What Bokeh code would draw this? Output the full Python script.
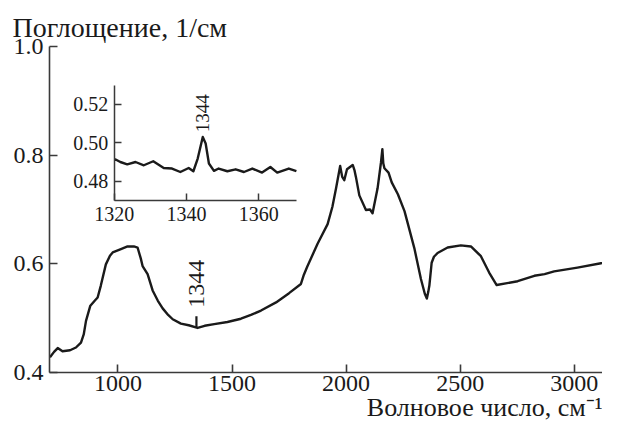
from math import pi
from bokeh.plotting import figure
from bokeh.models import Range1d, LinearAxis, FixedTicker, PrintfTickFormatter, Label, Title
from bokeh.embed import file_html
from bokeh.resources import INLINE

# ---- data ----
wavenumber = [702, 720, 736, 757, 790, 816, 838, 850, 860, 879, 900, 911, 925, 947, 965, 977,
              1013, 1042, 1070, 1086, 1100, 1108, 1130, 1152, 1175, 1196, 1220, 1240, 1276, 1310,
              1349, 1380, 1422, 1480, 1539, 1583, 1627, 1693, 1750, 1802, 1815, 1830, 1875, 1919,
              1940, 1956, 1974, 1983, 1992, 2004, 2029, 2037, 2043, 2058, 2087, 2105, 2116, 2138,
              2153, 2159, 2163, 2168, 2186, 2200, 2227, 2256, 2270, 2299, 2328, 2345, 2354, 2360,
              2365, 2375, 2385, 2401, 2445, 2503, 2547, 2591, 2627, 2660, 2752, 2825, 2870, 2912,
              3014, 3117, 3193]
absorbance = [0.428, 0.438, 0.445, 0.439, 0.441, 0.446, 0.455, 0.470, 0.495, 0.523, 0.533, 0.538,
              0.560, 0.599, 0.615, 0.621, 0.627, 0.632, 0.632, 0.630, 0.610, 0.596, 0.581, 0.551,
              0.532, 0.518, 0.506, 0.498, 0.490, 0.487, 0.482, 0.486, 0.489, 0.493, 0.499, 0.506,
              0.514, 0.529, 0.546, 0.563, 0.580, 0.595, 0.637, 0.673, 0.705, 0.739, 0.780, 0.760,
              0.754, 0.774, 0.782, 0.772, 0.760, 0.726, 0.699, 0.700, 0.693, 0.739, 0.787, 0.811,
              0.785, 0.776, 0.768, 0.750, 0.728, 0.697, 0.675, 0.629, 0.572, 0.545, 0.536, 0.548,
              0.560, 0.602, 0.613, 0.620, 0.630, 0.634, 0.632, 0.614, 0.584, 0.561, 0.568, 0.578,
              0.581, 0.586, 0.593, 0.601, 0.605]

inset_wavenumber = [1320.0, 1320.4, 1321.7, 1323.6, 1325.9, 1328.2, 1330.8, 1333.7, 1336.0, 1338.3,
                    1340.6, 1341.9, 1343.1, 1344.5, 1345.3, 1346.2, 1347.6, 1348.9, 1351.3, 1353.6,
                    1355.9, 1358.2, 1360.9, 1363.2, 1365.1, 1368.3, 1370.4]
inset_absorbance = [0.4912, 0.4913, 0.4900, 0.4888, 0.4900, 0.4883, 0.4904, 0.4869, 0.4866, 0.4848,
                    0.4869, 0.4852, 0.4918, 0.5030, 0.4996, 0.4892, 0.4854, 0.4866, 0.4852, 0.4862,
                    0.4848, 0.4866, 0.4845, 0.4874, 0.4845, 0.4866, 0.4853]

x_ticks = [1000, 1500, 2000, 2500, 3000]
y_ticks = [0.4, 0.6, 0.8, 1.0]
inset_x_ticks = [1320, 1340, 1360]
inset_y_ticks = [0.48, 0.50, 0.52]

peak_position = 1344
peak_label = "1344"
main_marker_bottom = 0.483
main_marker_top = 0.5036
main_label_y = 0.519
inset_label_y = 0.5055

y_title = "Поглощение, 1/см"
x_title = "Волновое число, см\u207b\u00b9"

# ---- layout ----
FONT = "Liberation Serif"
INK = "#1a1a1a"
AXIS = "#3a3a3a"
W, H = 602, 424
FL, FT, FB = 49, 46, 52
frame_w = W - FL
frame_h = H - FT - FB

x_start, y_start, y_end = 700, 0.4, 1.0
x_px_per_unit = 0.22815
x_end = x_start + frame_w / x_px_per_unit

p = figure(width=W, height=H, output_backend="svg", toolbar_location=None,
           x_range=Range1d(x_start, x_end), y_range=Range1d(y_start, y_end),
           min_border_left=FL, min_border_top=FT, min_border_bottom=FB, min_border_right=0)
p.grid.visible = False
p.outline_line_color = None
p.background_fill_color = "white"
p.border_fill_color = "white"

# y title (horizontal, above the axis)
p.title.text = y_title
p.title.align = "left"
p.title.offset = -37
p.title.standoff = 8
p.title.text_font = FONT
p.title.text_font_size = "28px"
p.title.text_font_style = "normal"
p.title.text_color = INK

for ax in (p.xaxis[0], p.yaxis[0]):
    ax.axis_line_color = AXIS
    ax.axis_line_width = 1.6
    ax.major_tick_line_color = AXIS
    ax.major_tick_line_width = 1.6
    ax.major_tick_in = 8
    ax.major_tick_out = 0
    ax.minor_tick_line_color = None
    ax.major_label_text_font = FONT
    ax.major_label_text_font_size = "24px"
    ax.major_label_text_color = INK

p.xaxis[0].ticker = FixedTicker(ticks=x_ticks)
p.xaxis[0].major_label_standoff = 3
p.yaxis[0].ticker = FixedTicker(ticks=y_ticks)
p.yaxis[0].formatter = PrintfTickFormatter(format="%.1f")
p.yaxis[0].major_label_standoff = 6
p.yaxis[0].bounds = (y_start, y_end)

# x title, right aligned below the axis
p.add_layout(Title(text=x_title, align="right", standoff=-6, text_font=FONT,
                   text_font_size="26px", text_font_style="normal", text_color=INK), "below")

p.line(wavenumber, absorbance, line_color=INK, line_width=2.4, line_join="round")
p.segment(x0=[peak_position], y0=[main_marker_bottom], x1=[peak_position], y1=[main_marker_top],
          line_color=INK, line_width=2.2)
p.add_layout(Label(x=peak_position, y=main_label_y, text=peak_label, angle=pi / 2,
                   text_align="left", text_baseline="middle", text_font=FONT,
                   text_font_size="24px", text_color=INK))

# ---- inset (own ranges, same frame) ----
inset_x0, inset_x1 = 1320, 1370.5
inset_y0, inset_y1 = 0.47, 0.53
ix_px = 3.615
iy_px = 1925.0
inset_left_px = 64.7                 # from frame left
inset_bottom_px = (H - FB) - 200.0   # from frame bottom
ix_start = inset_x0 - inset_left_px / ix_px
iy_start = inset_y0 - inset_bottom_px / iy_px
p.extra_x_ranges = {"ix": Range1d(ix_start, ix_start + frame_w / ix_px)}
p.extra_y_ranges = {"iy": Range1d(iy_start, iy_start + frame_h / iy_px)}

ixa = LinearAxis(x_range_name="ix", y_range_name="iy", fixed_location=inset_y0,
                 bounds=(inset_x0, inset_x1), ticker=FixedTicker(ticks=inset_x_ticks))
iya = LinearAxis(x_range_name="ix", y_range_name="iy", fixed_location=inset_x0,
                 bounds=(inset_y0, inset_y1), ticker=FixedTicker(ticks=inset_y_ticks),
                 formatter=PrintfTickFormatter(format="%.2f"))
for ax in (ixa, iya):
    ax.axis_line_color = AXIS
    ax.axis_line_width = 1.5
    ax.major_tick_line_color = AXIS
    ax.major_tick_line_width = 1.5
    ax.major_tick_in = 7
    ax.major_tick_out = 0
    ax.minor_tick_line_color = None
    ax.major_label_text_font = FONT
    ax.major_label_text_font_size = "20px"
    ax.major_label_text_color = INK
    ax.major_label_standoff = 6
p.add_layout(ixa, "below")
p.add_layout(iya, "left")

p.line(inset_wavenumber, inset_absorbance, x_range_name="ix", y_range_name="iy",
       line_color=INK, line_width=2.4, line_join="round")
p.add_layout(Label(x=1344.3, y=inset_label_y, x_range_name="ix", y_range_name="iy",
                   text=peak_label, angle=pi / 2, text_align="left", text_baseline="middle",
                   text_font=FONT, text_font_size="19px", text_color=INK))

open("out.html", "w").write(file_html(p, INLINE))
